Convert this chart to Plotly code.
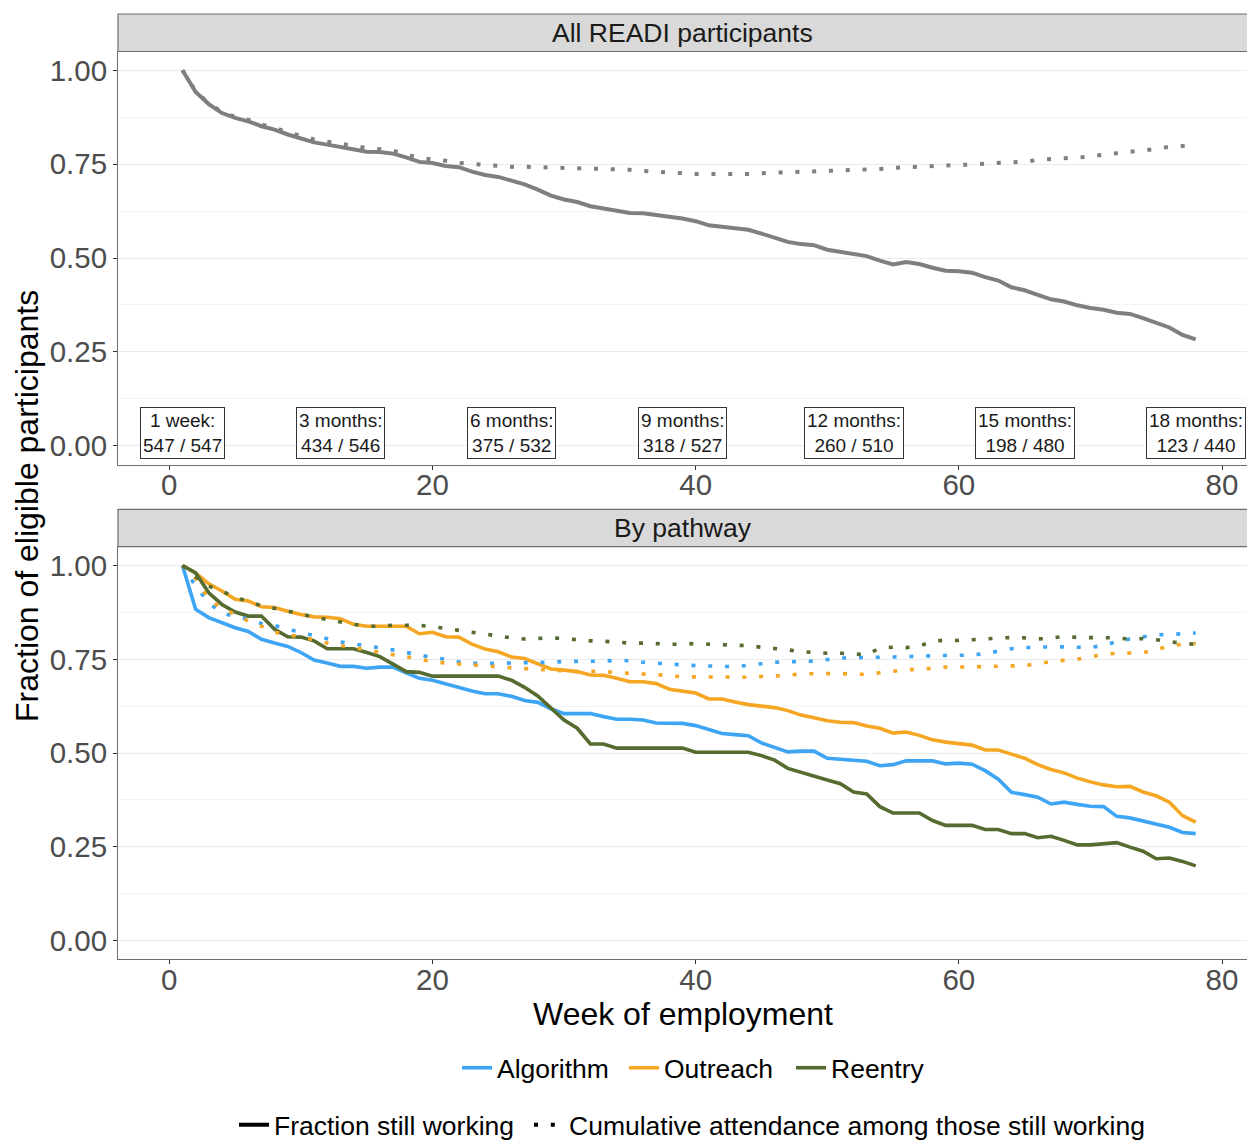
import plotly.graph_objects as go

# ---------------- data ----------------
weeks = list(range(1, 79))

all_working = [1.000, 0.942, 0.910, 0.886, 0.873, 0.864, 0.851, 0.842, 0.829, 0.819,
               0.808, 0.802, 0.796, 0.789, 0.783, 0.782, 0.778, 0.768, 0.756, 0.753,
               0.745, 0.742, 0.730, 0.721, 0.716, 0.706, 0.696, 0.682, 0.666, 0.656,
               0.649, 0.638, 0.632, 0.625, 0.620, 0.619, 0.615, 0.610, 0.605, 0.598,
               0.587, 0.583, 0.578, 0.575, 0.565, 0.555, 0.543, 0.537, 0.534, 0.522,
               0.516, 0.512, 0.505, 0.493, 0.483, 0.489, 0.484, 0.474, 0.466, 0.465,
               0.461, 0.449, 0.440, 0.422, 0.414, 0.402, 0.390, 0.384, 0.374, 0.367,
               0.362, 0.354, 0.351, 0.340, 0.327, 0.315, 0.295, 0.283]

all_attendance = [1.000, 0.944, 0.912, 0.889, 0.876, 0.868, 0.856, 0.847, 0.835, 0.826,
                  0.816, 0.810, 0.804, 0.798, 0.793, 0.790, 0.786, 0.776, 0.767, 0.762,
                  0.759, 0.753, 0.750, 0.747, 0.745, 0.743, 0.743, 0.742, 0.742, 0.741,
                  0.740, 0.739, 0.738, 0.737, 0.735, 0.732, 0.730, 0.727, 0.725, 0.724,
                  0.724, 0.724, 0.723, 0.724, 0.726, 0.727, 0.728, 0.729, 0.731, 0.733,
                  0.734, 0.734, 0.734, 0.737, 0.740, 0.742, 0.744, 0.746, 0.747, 0.748,
                  0.749, 0.751, 0.753, 0.754, 0.757, 0.761, 0.764, 0.766, 0.767, 0.771,
                  0.776, 0.781, 0.783, 0.786, 0.792, 0.796, 0.798, 0.800]

algorithm_working = [1.000, 0.883, 0.861, 0.848, 0.834, 0.824, 0.803, 0.793, 0.784, 0.768,
                     0.748, 0.740, 0.731, 0.731, 0.726, 0.729, 0.729, 0.714, 0.699, 0.694,
                     0.684, 0.676, 0.665, 0.658, 0.658, 0.651, 0.640, 0.635, 0.618, 0.605,
                     0.605, 0.605, 0.597, 0.590, 0.590, 0.588, 0.580, 0.580, 0.579, 0.573,
                     0.563, 0.552, 0.549, 0.546, 0.527, 0.515, 0.503, 0.505, 0.505, 0.486,
                     0.484, 0.481, 0.478, 0.466, 0.469, 0.479, 0.479, 0.479, 0.471, 0.473,
                     0.470, 0.453, 0.430, 0.395, 0.389, 0.382, 0.364, 0.369, 0.363, 0.358,
                     0.357, 0.331, 0.327, 0.318, 0.311, 0.302, 0.288, 0.285]

outreach_working = [1.000, 0.980, 0.951, 0.932, 0.910, 0.905, 0.890, 0.888, 0.878, 0.869,
                    0.863, 0.862, 0.858, 0.843, 0.838, 0.838, 0.838, 0.838, 0.818, 0.822,
                    0.810, 0.809, 0.790, 0.777, 0.770, 0.756, 0.752, 0.738, 0.724, 0.721,
                    0.717, 0.708, 0.707, 0.699, 0.690, 0.690, 0.685, 0.670, 0.666, 0.660,
                    0.644, 0.644, 0.636, 0.629, 0.625, 0.621, 0.613, 0.601, 0.594, 0.586,
                    0.582, 0.581, 0.572, 0.566, 0.553, 0.556, 0.547, 0.535, 0.529, 0.526,
                    0.521, 0.508, 0.508, 0.497, 0.486, 0.469, 0.456, 0.447, 0.433, 0.423,
                    0.415, 0.410, 0.411, 0.396, 0.386, 0.369, 0.333, 0.316]

reentry_working = [1.000, 0.980, 0.927, 0.896, 0.876, 0.865, 0.865, 0.830, 0.810, 0.809,
                   0.799, 0.778, 0.778, 0.778, 0.768, 0.757, 0.737, 0.717, 0.715, 0.705,
                   0.705, 0.705, 0.705, 0.705, 0.705, 0.694, 0.675, 0.652, 0.621, 0.588,
                   0.566, 0.524, 0.524, 0.513, 0.513, 0.513, 0.513, 0.513, 0.513, 0.502,
                   0.502, 0.502, 0.502, 0.502, 0.493, 0.481, 0.459, 0.448, 0.438, 0.428,
                   0.418, 0.396, 0.391, 0.357, 0.340, 0.340, 0.340, 0.320, 0.307, 0.307,
                   0.307, 0.296, 0.296, 0.285, 0.285, 0.274, 0.278, 0.267, 0.255, 0.255,
                   0.258, 0.261, 0.249, 0.238, 0.218, 0.220, 0.211, 0.199]

algorithm_attendance = [1.000, 0.945, 0.900, 0.873, 0.864, 0.857, 0.845, 0.840, 0.830, 0.821,
                        0.812, 0.804, 0.796, 0.791, 0.786, 0.780, 0.775, 0.768, 0.761, 0.755,
                        0.750, 0.743, 0.739, 0.738, 0.739, 0.740, 0.740, 0.740, 0.742, 0.744,
                        0.744, 0.744, 0.745, 0.747, 0.746, 0.742, 0.739, 0.737, 0.735, 0.733,
                        0.733, 0.731, 0.730, 0.733, 0.738, 0.742, 0.744, 0.744, 0.745, 0.749,
                        0.753, 0.754, 0.754, 0.755, 0.756, 0.757, 0.759, 0.759, 0.760, 0.761,
                        0.761, 0.765, 0.772, 0.778, 0.781, 0.783, 0.783, 0.783, 0.782, 0.781,
                        0.787, 0.797, 0.804, 0.809, 0.815, 0.816, 0.818, 0.820]

outreach_attendance = [1.000, 0.965, 0.910, 0.885, 0.870, 0.852, 0.838, 0.822, 0.815, 0.810,
                       0.802, 0.793, 0.787, 0.781, 0.775, 0.769, 0.762, 0.755, 0.749, 0.744,
                       0.740, 0.738, 0.736, 0.732, 0.730, 0.727, 0.725, 0.722, 0.720, 0.718,
                       0.717, 0.718, 0.717, 0.715, 0.712, 0.711, 0.709, 0.706, 0.703, 0.703,
                       0.703, 0.702, 0.701, 0.702, 0.704, 0.705, 0.707, 0.711, 0.712, 0.713,
                       0.712, 0.710, 0.710, 0.714, 0.718, 0.722, 0.723, 0.726, 0.729, 0.729,
                       0.730, 0.730, 0.730, 0.731, 0.733, 0.738, 0.744, 0.747, 0.750, 0.756,
                       0.763, 0.766, 0.766, 0.767, 0.776, 0.785, 0.790, 0.792]

reentry_attendance = [1.000, 0.970, 0.945, 0.931, 0.918, 0.903, 0.893, 0.886, 0.878, 0.871,
                      0.862, 0.855, 0.850, 0.843, 0.838, 0.838, 0.841, 0.841, 0.840, 0.837,
                      0.832, 0.828, 0.822, 0.816, 0.811, 0.807, 0.804, 0.806, 0.807, 0.805,
                      0.801, 0.799, 0.798, 0.795, 0.793, 0.793, 0.791, 0.790, 0.790, 0.792,
                      0.790, 0.789, 0.788, 0.786, 0.782, 0.779, 0.775, 0.770, 0.767, 0.766,
                      0.766, 0.764, 0.762, 0.780, 0.782, 0.781, 0.785, 0.798, 0.801, 0.800,
                      0.801, 0.804, 0.806, 0.808, 0.807, 0.804, 0.806, 0.811, 0.808, 0.808,
                      0.808, 0.807, 0.803, 0.805, 0.802, 0.796, 0.792, 0.790]

pathways = ["Algorithm", "Outreach", "Reentry"]
pathway_colors = {"Algorithm": "#3DA5F4", "Outreach": "#F5A623", "Reentry": "#556B2F"}
pathway_working = {"Algorithm": algorithm_working, "Outreach": outreach_working,
                   "Reentry": reentry_working}
pathway_attendance = {"Algorithm": algorithm_attendance, "Outreach": outreach_attendance,
                      "Reentry": reentry_attendance}

label_weeks = [1, 13, 26, 39, 52, 65, 78]
label_names = ["1 week:", "3 months:", "6 months:", "9 months:", "12 months:",
               "15 months:", "18 months:"]
label_working = [547, 434, 375, 318, 260, 198, 123]
label_eligible = [547, 546, 532, 527, 510, 480, 440]

x_ticks = [0, 20, 40, 60, 80]
y_ticks = [0.0, 0.25, 0.5, 0.75, 1.0]
y_tick_text = ["0.00", "0.25", "0.50", "0.75", "1.00"]

# ---------------- figure ----------------
FONT = "Liberation Sans, Arial, Helvetica, sans-serif"
W, H = 1247, 1141
GREY = "#7F7F7F"
DOT = "4px,12.8px"

fig = go.Figure()

# top panel
fig.add_trace(go.Scatter(x=weeks, y=all_working, mode="lines", xaxis="x", yaxis="y",
                         line=dict(color=GREY, width=4), showlegend=False,
                         name="Fraction still working"))
fig.add_trace(go.Scatter(x=weeks, y=all_attendance, mode="lines", xaxis="x", yaxis="y",
                         line=dict(color=GREY, width=4, dash=DOT), showlegend=False,
                         name="Cumulative attendance among those still working"))

# bottom panel
for p in pathways:
    fig.add_trace(go.Scatter(x=weeks, y=pathway_working[p], mode="lines",
                             xaxis="x2", yaxis="y2", name=p, legend="legend",
                             line=dict(color=pathway_colors[p], width=3.6)))
for p in pathways:
    fig.add_trace(go.Scatter(x=weeks, y=pathway_attendance[p], mode="lines",
                             xaxis="x2", yaxis="y2", name=p + " attendance",
                             showlegend=False,
                             line=dict(color=pathway_colors[p], width=3.6, dash=DOT)))

# linetype legend entries
fig.add_trace(go.Scatter(x=[None], y=[None], mode="lines", name="Fraction still working",
                         legend="legend2", xaxis="x2", yaxis="y2",
                         line=dict(color="black", width=4)))
fig.add_trace(go.Scatter(x=[None], y=[None], mode="lines",
                         name="Cumulative attendance among those still working",
                         legend="legend3", xaxis="x2", yaxis="y2",
                         line=dict(color="black", width=4, dash=DOT)))

def py(pix):
    return 1 - pix / H

def px_(pix):
    return (pix - 118) / 1129

top_dom = [py(464.5), py(51.5)]
bot_dom = [py(959.3), py(546.7)]

xaxis_common = dict(range=[-3.9, 81.9], tickvals=x_ticks, ticks="outside", ticklen=4,
                    tickcolor="#333333", showgrid=False, zeroline=False, showline=True,
                    linecolor="#6E6E6E", linewidth=1, mirror=True, ticklabelstandoff=-10,
                    tickfont=dict(family=FONT, size=29.5, color="#4D4D4D"))
yaxis_common = dict(range=[-0.05, 1.05], tickvals=y_ticks, ticktext=y_tick_text,
                    ticks="outside", ticklen=4, tickcolor="#333333",
                    showgrid=True, gridcolor="#EBEBEB", gridwidth=1.2, zeroline=False,
                    showline=True, linecolor="#6E6E6E", linewidth=1, mirror=True,
                    minor=dict(tickvals=[0.125, 0.375, 0.625, 0.875], showgrid=True,
                               gridcolor="#F4F4F4", gridwidth=0.8),
                    tickfont=dict(family=FONT, size=29.5, color="#4D4D4D"))

legend_font = dict(family=FONT, size=26.5, color="black")
fig.update_layout(
    width=W, height=H,
    margin=dict(l=118, r=0, t=0, b=0, autoexpand=False),
    paper_bgcolor="white", plot_bgcolor="white",
    font=dict(family=FONT, color="black"),
    xaxis=dict(domain=[0, 1], anchor="y", **xaxis_common),
    yaxis=dict(domain=top_dom, anchor="x", **yaxis_common),
    xaxis2=dict(domain=[0, 1], anchor="y2", **xaxis_common),
    yaxis2=dict(domain=bot_dom, anchor="x2", **yaxis_common),
    legend=dict(orientation="h", x=px_(457), xanchor="left", y=py(1068), yanchor="middle",
                font=legend_font, itemwidth=30, entrywidth=122, entrywidthmode="pixels",
                bgcolor="rgba(0,0,0,0)", traceorder="normal"),
    legend2=dict(orientation="h", x=px_(234), xanchor="left", y=py(1125), yanchor="middle",
                 font=legend_font, itemwidth=30, bgcolor="rgba(0,0,0,0)"),
    legend3=dict(orientation="h", x=px_(529), xanchor="left", y=py(1125), yanchor="middle",
                 font=legend_font, itemwidth=30, bgcolor="rgba(0,0,0,0)"),
)

# strips
shapes = []
for (y0, y1) in [(51.5, 14), (546.7, 509.3)]:
    shapes.append(dict(type="rect", xref="paper", yref="paper", x0=0, x1=1.01,
                       y0=py(y0), y1=py(y1), fillcolor="#D9D9D9",
                       line=dict(color="#6E6E6E", width=1.2), layer="above"))
fig.update_layout(shapes=shapes)

annotations = [
    dict(text="All READI participants", xref="paper", yref="paper", x=0.5, y=py(33),
         xanchor="center", yanchor="middle", showarrow=False,
         font=dict(family=FONT, size=26.5, color="#1A1A1A")),
    dict(text="By pathway", xref="paper", yref="paper", x=0.5, y=py(528),
         xanchor="center", yanchor="middle", showarrow=False,
         font=dict(family=FONT, size=26.5, color="#1A1A1A")),
    dict(text="Fraction of eligible participants", xref="paper", yref="paper",
         x=px_(27), y=py(506), xanchor="center", yanchor="middle",
         textangle=-90, showarrow=False, font=dict(family=FONT, size=32, color="black")),
    dict(text="Week of employment", xref="paper", yref="paper", x=0.5, y=py(1014),
         xanchor="center", yanchor="middle", showarrow=False,
         font=dict(family=FONT, size=32, color="black")),
]
for wk, nm, nw, ne in zip(label_weeks, label_names, label_working, label_eligible):
    annotations.append(dict(
        text=f"{nm}<br>{nw} / {ne}", x=wk, y=0.033, xref="x", yref="y",
        xanchor="center", yanchor="middle", showarrow=False, align="center",
        bgcolor="white", bordercolor="#333333", borderwidth=1, borderpad=2,
        font=dict(family=FONT, size=19, color="#1A1A1A")))
fig.update_layout(annotations=annotations)

fig.write_html("out.html", config={"displayModeBar": False},
               post_script="document.body.style.margin='0';"
                           "document.body.style.overflow='hidden';")
